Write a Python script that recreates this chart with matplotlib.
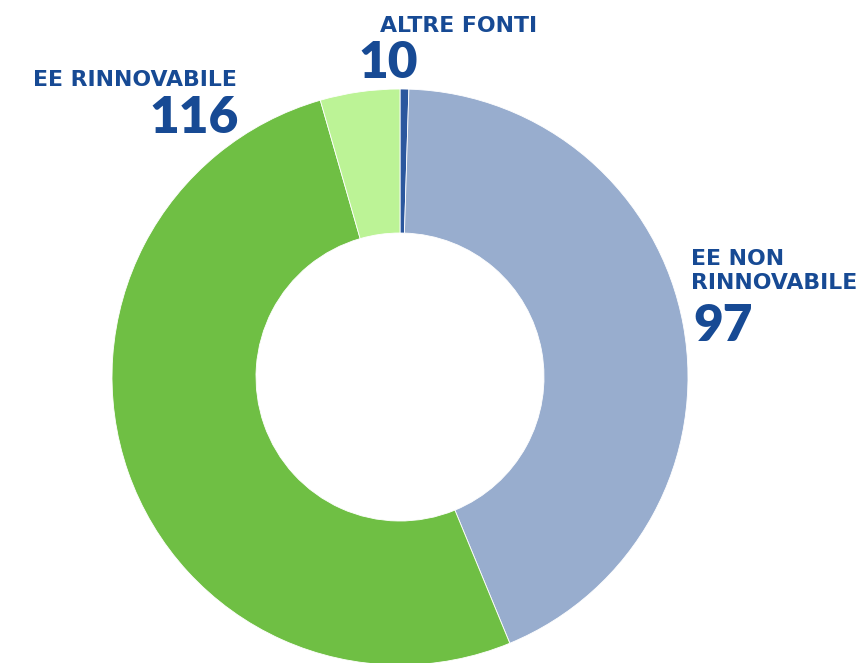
import matplotlib.pyplot as plt

# Dati
categorie = ["", "EE NON\nRINNOVABILE", "EE RINNOVABILE", "ALTRE FONTI"]
valori = [1.1, 97, 116, 10]
etichette_valori = ["", "97", "116", "10"]
colori = ["#2b579e", "#98adce", "#6fbf44", "#bcf396"]
blu = "#174a94"

plt.rcParams['font.family'] = ['Lato', 'DejaVu Sans']
font_etichette = ['DejaVu Sans']

W, H = 868, 663
cx, cy, R = 400, 377, 288

fig = plt.figure(figsize=(W / 100, H / 100), dpi=100)
ax = fig.add_axes([0, 0, 1, 1])
ax.pie(valori, colors=colori, startangle=90, counterclock=False, radius=1,
       wedgeprops=dict(width=0.5, edgecolor='white', linewidth=0.6))
ax.set_xlim(-cx / R, (W - cx) / R)
ax.set_ylim(-(H - cy) / R, cy / R)
ax.set_aspect('auto')
ax.axis('off')


def px(x, y):
    return (x - cx) / R, (cy - y) / R


# Etichette
ax.text(*px(380, 26), categorie[3], ha='left', va='center', fontsize=15.8, fontweight='bold',
        color=blu, family=font_etichette)
ax.text(*px(418, 63), etichette_valori[3], ha='right', va='center', fontsize=37, fontweight='heavy', color=blu)

ax.text(*px(237, 80), categorie[2], ha='right', va='center', fontsize=15.8, fontweight='bold',
        color=blu, family=font_etichette)
ax.text(*px(239, 118), etichette_valori[2], ha='right', va='center', fontsize=37, fontweight='heavy', color=blu)

ax.text(*px(691, 271), categorie[1], ha='left', va='center', fontsize=15.8, fontweight='bold',
        color=blu, linespacing=1.3, family=font_etichette)
ax.text(*px(693, 326), etichette_valori[1], ha='left', va='center', fontsize=37, fontweight='heavy', color=blu)

fig.savefig("out.png", dpi=100)
